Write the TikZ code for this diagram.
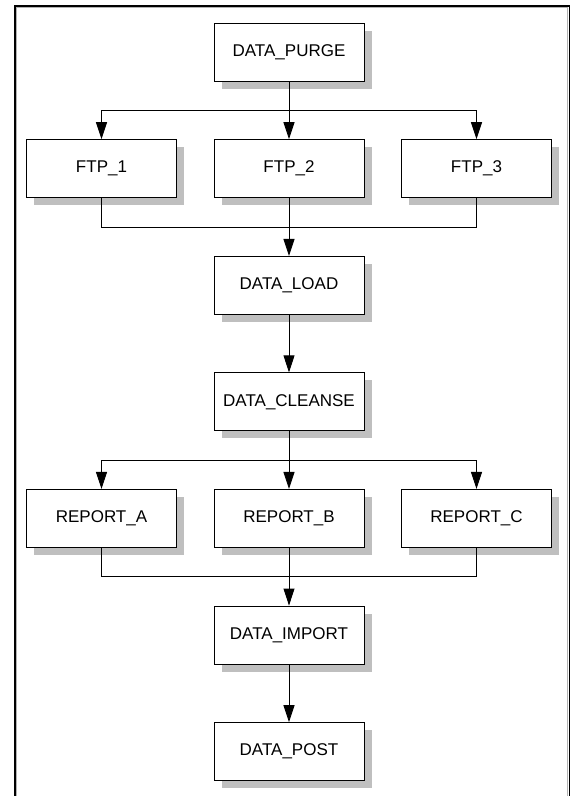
\documentclass[tikz,border=0pt]{standalone}
\usepackage{fontspec}
\setmainfont{Liberation Sans}
\usetikzlibrary{arrows.meta, shadows, positioning}

\begin{document}
\begin{tikzpicture}
    [
        x=1pt, y=-1pt,
        job/.style = {
            draw, fill=white, line width=0.9pt,
            minimum width=150pt, minimum height=58pt,
            font=\fontsize{17}{20}\selectfont,
            drop shadow={shadow xshift=7.5pt, shadow yshift=-7.5pt, fill=black!25, opacity=1}
        },
        link/.style = {
            draw=black, line width=0.9pt
        },
        flow/.style = {
            link, -{Triangle[length=17pt, width=11pt]}
        },
    ]
    \path[use as bounding box] (0,0) rectangle (576,796);
    %\draw[help lines] (0,0) grid (576,796);
    \draw[line width=1.7pt] (14.8,5.8) rectangle (569.6,830);
    \draw[gray!60, line width=0.8pt] (16.6,7.6) rectangle (567.8,830);

    \node[job] (purge)   at (289, 52)      {DATA\_PURGE};
    \node[job] (ftp1)    at (101.5, 168.6) {FTP\_1};
    \node[job] (ftp2)    at (289, 168.6)   {FTP\_2};
    \node[job] (ftp3)    at (476.5, 168.6) {FTP\_3};
    \node[job] (load)    at (289, 285.4)   {DATA\_LOAD};
    \node[job] (cleanse) at (289, 401.8)   {DATA\_CLEANSE};
    \node[job] (repa)    at (101.5, 518.4) {REPORT\_A};
    \node[job] (repb)    at (289, 518.4)   {REPORT\_B};
    \node[job] (repc)    at (476.5, 518.4) {REPORT\_C};
    \node[job] (import)  at (289, 635)     {DATA\_IMPORT};
    \node[job] (post)    at (289, 751.6)   {DATA\_POST};

    \coordinate (fork1) at (289, 110);
    \coordinate (join1) at (289, 227.5);
    \coordinate (fork2) at (289, 460.3);
    \coordinate (join2) at (289, 576.7);

    \draw[link] (purge) -- (fork1);
    \draw[flow] (fork1) -| (ftp1.north);
    \draw[flow] (fork1) -- (ftp2);
    \draw[flow] (fork1) -| (ftp3.north);
    \draw[link] (ftp1.south) |- (join1);
    \draw[link] (ftp3.south) |- (join1);
    \draw[flow] (ftp2) -- (load);
    \draw[flow] (load) -- (cleanse);
    \draw[link] (cleanse) -- (fork2);
    \draw[flow] (fork2) -| (repa.north);
    \draw[flow] (fork2) -- (repb);
    \draw[flow] (fork2) -| (repc.north);
    \draw[link] (repa.south) |- (join2);
    \draw[link] (repc.south) |- (join2);
    \draw[flow] (repb) -- (import);
    \draw[flow] (import) -- (post);
\end{tikzpicture}
\end{document}
